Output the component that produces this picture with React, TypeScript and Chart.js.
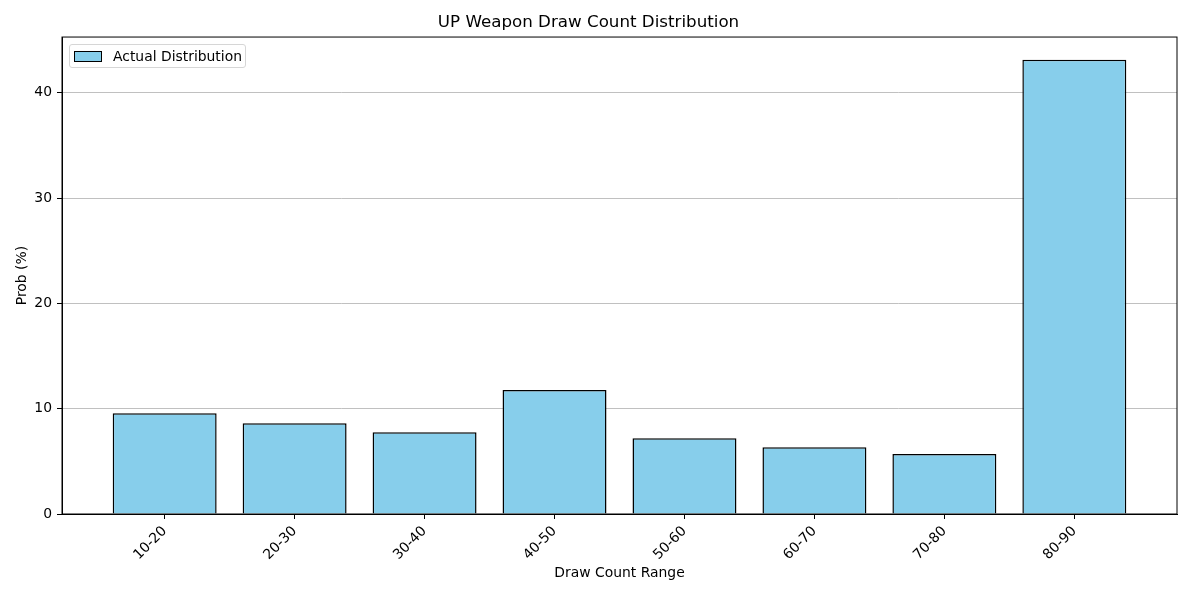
import React, { useEffect, useRef } from 'react';
import { Chart, registerables } from 'chart.js';

Chart.register(...registerables);

// Values
const categories = ['10-20', '20-30', '30-40', '40-50', '50-60', '60-70', '70-80', '80-90'];
const probValues = [9.56, 8.61, 7.76, 11.78, 7.19, 6.33, 5.70, 43.14];
const yTickValues = [0, 10, 20, 30, 40];

const FONT = "'DejaVu Sans', sans-serif";

// draws the top and right spines so the plot is a closed box
const framePlugin = {
  id: 'frame',
  afterDraw(chart: Chart) {
    const { ctx, chartArea } = chart;
    ctx.save();
    ctx.strokeStyle = '#000';
    ctx.lineWidth = 1;
    ctx.strokeRect(chartArea.left, chartArea.top, chartArea.right - chartArea.left, chartArea.bottom - chartArea.top);
    ctx.restore();
  }
};

const App: React.FC = () => {
  const canvasRef = useRef<HTMLCanvasElement>(null);

  useEffect(() => {
    document.body.style.margin = '0';
    if (!canvasRef.current) return;
    const ctx = canvasRef.current.getContext('2d');
    if (!ctx) return;

    const chart = new Chart(ctx, {
      type: 'bar',
      data: {
        datasets: [
          {
            label: 'Actual Distribution',
            data: probValues.map((v, i) => ({ x: i, y: v })),
            backgroundColor: '#87CEEB',
            borderColor: '#000',
            borderWidth: 1.5,
            borderSkipped: 'start',
            barPercentage: 0.8,
            categoryPercentage: 1
          }
        ]
      },
      options: {
        responsive: false,
        animation: false,
        devicePixelRatio: 1,
        layout: { padding: { left: 0, right: 15, top: 0, bottom: 0 } },
        plugins: {
          legend: { display: false },
          tooltip: { enabled: false },
          title: {
            display: true,
            text: 'UP Weapon Draw Count Distribution',
            color: '#000',
            font: { family: FONT, size: 16.7, weight: 'normal' },
            padding: { top: 13, bottom: 4 }
          }
        },
        scales: {
          x: {
            type: 'linear',
            min: -0.79,
            max: 7.79,
            offset: false,
            afterBuildTicks: (scale: any) => {
              scale.ticks = categories.map((_, i) => ({ value: i }));
            },
            afterFit: (scale: any) => {
              scale.height = 82;
            },
            ticks: {
              color: '#000',
              font: { family: FONT, size: 13.9 },
              minRotation: 45,
              maxRotation: 45,
              padding: 4,
              autoSkip: false,
              callback: (v: any) => categories[v] ?? ''
            },
            grid: { offset: false, drawOnChartArea: false, drawTicks: true, tickLength: 5, tickColor: '#000' },
            border: { color: '#000', width: 1 },
            title: {
              display: true,
              text: 'Draw Count Range',
              color: '#000',
              font: { family: FONT, size: 13.9 },
              padding: { top: 0, bottom: 14 }
            }
          },
          y: {
            min: 0,
            max: 45.3,
            z: 1,
            afterBuildTicks: (scale: any) => {
              scale.ticks = yTickValues.map(v => ({ value: v }));
            },
            afterFit: (scale: any) => {
              scale.width = 62;
            },
            ticks: {
              color: '#000',
              font: { family: FONT, size: 13.9 },
              padding: 5
            },
            grid: { color: 'rgba(176,176,176,0.8)', lineWidth: 1, tickLength: 5, tickColor: '#000' },
            border: { color: '#000', width: 1 },
            title: {
              display: true,
              text: 'Prob (%)',
              color: '#000',
              font: { family: FONT, size: 13.9 },
              padding: { top: 14, bottom: 0 }
            }
          }
        }
      },
      plugins: [framePlugin]
    });

    return () => {
      chart.destroy();
    };
  }, []);

  return (
    <div style={{ position: 'relative', width: 1192, height: 596, background: '#fff' }}>
      <canvas ref={canvasRef} width={1192} height={596} style={{ display: 'block' }}></canvas>
      <div
        style={{
          position: 'absolute',
          left: 69,
          top: 44,
          width: 177,
          height: 24,
          boxSizing: 'border-box',
          border: '1px solid #d6d6d6',
          borderRadius: 3,
          background: 'rgba(255,255,255,0.8)',
          fontFamily: FONT,
          fontSize: 13.9,
          color: '#000',
          display: 'flex',
          alignItems: 'center'
        }}
      >
        <span
          style={{
            display: 'inline-block',
            marginLeft: 4,
            width: 28,
            height: 11,
            boxSizing: 'border-box',
            background: '#87CEEB',
            border: '1px solid #000'
          }}
        ></span>
        <span style={{ marginLeft: 11, whiteSpace: 'nowrap' }}>Actual Distribution</span>
      </div>
    </div>
  );
};

export default App;
